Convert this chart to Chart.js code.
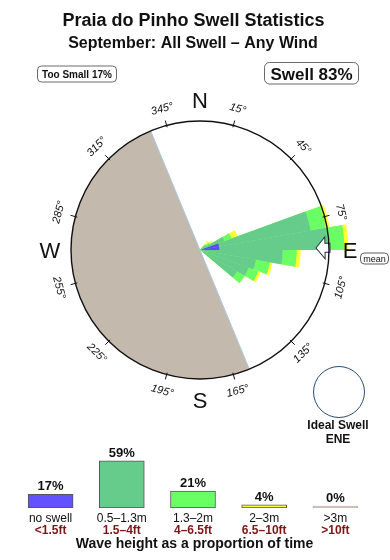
<!DOCTYPE html>
<html>
<head>
<meta charset="utf-8">
<script src="https://cdn.jsdelivr.net/npm/chart.js@4.4.0/dist/chart.umd.min.js"></script>
<style>
  body { margin: 0; background: #fff; }
  #wrap { position: relative; width: 390px; height: 560px; }
  #roseChart { position: absolute; left: 0; top: 0; }
  #heightChart { position: absolute; left: 0; top: 440px; }
</style>
</head>
<body>
<div id="wrap">
  <canvas id="roseChart" width="390" height="560"></canvas>
  <canvas id="heightChart" width="390" height="120"></canvas>
</div>
<script>
// ======= DATA =======
// start of each 10 degree direction sector that has swell
const dirBins = [40, 50, 60, 70, 80, 90, 100, 110, 120];
// rose values per height band (outer ring = 10)
const blueVals   = [0,   0,   0,   1.5, 1.5, 0,   0,   0,   0];
const greenVals  = [0.4, 0.6, 2.0, 7.2, 8.4, 6.4, 4.4, 4.0, 3.3];
const lgreenVals = [0.2, 0.3, 0.6, 1.2, 1.3, 1.1, 1.1, 0.8, 0.7];
const yellowVals = [0.3, 0.2, 0.5, 0.3, 0.3, 0.3, 0.2, 0.2, 0.0];

const bandLabels = ['no swell', '0.5–1.3m', '1.3–2m', '2–3m', '>3m'];
const bandFeet = ['<1.5ft', '1.5–4ft', '4–6.5ft', '6.5–10ft', '>10ft'];
const bandPct = [17, 59, 21, 4, 0];
const bandColors = ['#6252ff', '#66cc8c', '#6bff66', '#ffff33', '#c4b4aa'];

const degLabels = [15, 45, 75, 105, 135, 165, 195, 225, 255, 285, 315, 345];
const compass = [['N', 0], ['E', 90], ['S', 180], ['W', 270]];
const landFrom = 157.5;
const landTo = 337.5;
const meanDir = 89;
const idealDir = 'ENE';
const tooSmallPct = 17;
const swellPct = 83;

const FONT = '"Liberation Sans", Arial, Helvetica, sans-serif';
const rad = d => (d - 90) * Math.PI / 180;

// 36 sectors round the rose, stacked band by band
const sectors = Array.from({ length: 36 }, (_, i) => i * 10);
function ring(vals) {
  const out = sectors.map(() => 0);
  dirBins.forEach((d, i) => { out[d / 10] = vals[i]; });
  return out;
}
let cum = sectors.map(() => 0);
const stacked = [blueVals, greenVals, lgreenVals, yellowVals].map(v => {
  const r = ring(v);
  cum = cum.map((c, i) => c + r[i]);
  return cum.slice();
});

function roundBox(ctx, x, y, w, h, r) {
  ctx.beginPath();
  ctx.moveTo(x + r, y);
  ctx.arcTo(x + w, y, x + w, y + h, r);
  ctx.arcTo(x + w, y + h, x, y + h, r);
  ctx.arcTo(x, y + h, x, y, r);
  ctx.arcTo(x, y, x + w, y, r);
  ctx.closePath();
}

// ======= ROSE =======
const rosePlugin = {
  id: 'roseDecor',
  beforeDatasetsDraw(chart) {
    const ctx = chart.ctx;
    const sc = chart.scales.r;
    const cx = sc.xCenter, cy = sc.yCenter, R = sc.drawingArea;
    ctx.save();
    ctx.fillStyle = '#c4b9ad';
    ctx.beginPath();
    ctx.moveTo(cx, cy);
    ctx.arc(cx, cy, R, rad(landFrom), rad(landTo));
    ctx.closePath();
    ctx.fill();
    ctx.strokeStyle = '#a9c9ea';
    ctx.lineWidth = 1;
    ctx.beginPath();
    ctx.moveTo(cx + R * Math.cos(rad(landFrom)), cy + R * Math.sin(rad(landFrom)));
    ctx.lineTo(cx + R * Math.cos(rad(landTo)), cy + R * Math.sin(rad(landTo)));
    ctx.stroke();
    ctx.restore();
  },
  afterDatasetsDraw(chart) {
    const ctx = chart.ctx;
    const sc = chart.scales.r;
    const cx = sc.xCenter, cy = sc.yCenter, R = sc.drawingArea;
    ctx.save();

    // mean direction arrow
    ctx.save();
    ctx.translate(cx, cy);
    ctx.rotate(rad(meanDir));
    ctx.beginPath();
    ctx.moveTo(R - 13, 0);
    ctx.lineTo(R - 4, -11);
    ctx.lineTo(R - 4, -4.5);
    ctx.lineTo(R + 1, -4.5);
    ctx.lineTo(R + 1, 4.5);
    ctx.lineTo(R - 4, 4.5);
    ctx.lineTo(R - 4, 11);
    ctx.closePath();
    ctx.fillStyle = '#fff';
    ctx.fill();
    ctx.strokeStyle = '#223344';
    ctx.lineWidth = 1;
    ctx.stroke();
    ctx.restore();

    // outer ring
    ctx.strokeStyle = '#111';
    ctx.lineWidth = 1.4;
    ctx.beginPath();
    ctx.arc(cx, cy, R, 0, Math.PI * 2);
    ctx.stroke();

    // ticks and degree labels
    ctx.lineWidth = 1;
    ctx.fillStyle = '#111';
    ctx.font = 'italic 11px ' + FONT;
    ctx.textAlign = 'center';
    ctx.textBaseline = 'middle';
    degLabels.forEach(b => {
      const a = rad(b);
      ctx.beginPath();
      ctx.moveTo(cx + (R - 2) * Math.cos(a), cy + (R - 2) * Math.sin(a));
      ctx.lineTo(cx + (R + 5) * Math.cos(a), cy + (R + 5) * Math.sin(a));
      ctx.stroke();
      ctx.save();
      ctx.translate(cx + 146 * Math.cos(a), cy + 146 * Math.sin(a));
      const bottom = b > 90 && b < 270;
      ctx.rotate((bottom ? b - 180 : b) * Math.PI / 180);
      ctx.fillText(b + '°', 0, 0);
      ctx.restore();
    });

    // compass letters
    ctx.font = '22px ' + FONT;
    ctx.textBaseline = 'alphabetic';
    compass.forEach(([t, b]) => {
      const a = rad(b);
      ctx.fillText(t, cx + 150 * Math.cos(a), cy + 150 * Math.sin(a) + 8);
    });

    // "mean" tag
    ctx.strokeStyle = '#333';
    ctx.lineWidth = 0.8;
    roundBox(ctx, 360.5, 253, 28, 11, 4);
    ctx.stroke();
    ctx.font = '9px ' + FONT;
    ctx.fillText('mean', 374.5, 262);

    // ideal swell
    ctx.strokeStyle = '#2c4d6e';
    ctx.lineWidth = 1;
    ctx.beginPath();
    ctx.arc(339, 392, 25.5, 0, Math.PI * 2);
    ctx.stroke();
    ctx.font = 'bold 12px ' + FONT;
    ctx.fillText('Ideal Swell', 338, 429);
    ctx.fillText(idealDir, 338, 443);

    // titles
    ctx.font = 'bold 18px ' + FONT;
    ctx.fillText('Praia do Pinho Swell Statistics', 193.5, 26);
    ctx.font = 'bold 16px ' + FONT;
    ctx.fillText('September: All Swell – Any Wind', 193, 48);

    // summary boxes
    ctx.strokeStyle = '#444';
    ctx.lineWidth = 0.8;
    roundBox(ctx, 37.5, 66, 79, 16, 4);
    ctx.stroke();
    ctx.font = 'bold 10px ' + FONT;
    ctx.fillText('Too Small ' + tooSmallPct + '%', 77, 77.5);
    roundBox(ctx, 264.5, 62.5, 94, 21.5, 5);
    ctx.stroke();
    ctx.font = 'bold 17px ' + FONT;
    ctx.fillText('Swell ' + swellPct + '%', 311.5, 80);

    ctx.restore();
  }
};

const roseColors = ['#5b4bff', '#66cc8c', '#6bff66', '#ffff33'];
new Chart(document.getElementById('roseChart'), {
  type: 'polarArea',
  data: {
    labels: sectors.map(s => s + '°'),
    datasets: stacked.map((d, i) => ({
      data: d,
      backgroundColor: roseColors[i],
      borderWidth: 0,
      clip: false
    }))
  },
  options: {
    responsive: false,
    animation: false,
    events: [],
    layout: { padding: { left: 71, right: 61, top: 121, bottom: 181 } },
    plugins: { legend: { display: false }, tooltip: { enabled: false } },
    scales: {
      r: {
        min: 0,
        max: 10,
        startAngle: 0,
        ticks: { display: false },
        grid: { display: false },
        angleLines: { display: false },
        pointLabels: { display: false }
      }
    }
  },
  plugins: [rosePlugin]
});

// ======= HEIGHT BARS =======
const bandPlugin = {
  id: 'bandLabels',
  afterDatasetsDraw(chart) {
    const ctx = chart.ctx;
    const meta = chart.getDatasetMeta(0);
    const base = chart.chartArea.bottom;
    ctx.save();
    ctx.textAlign = 'center';
    meta.data.forEach((bar, i) => {
      ctx.fillStyle = '#111';
      ctx.font = 'bold 13px ' + FONT;
      ctx.fillText(bandPct[i] + '%', bar.x, bar.y - 4);
      ctx.font = '12px ' + FONT;
      ctx.fillText(bandLabels[i], bar.x, base + 14);
      ctx.fillStyle = '#7f1616';
      ctx.font = 'bold 12px ' + FONT;
      ctx.fillText(bandFeet[i], bar.x, base + 26);
    });
    ctx.fillStyle = '#111';
    ctx.font = 'bold 14px ' + FONT;
    ctx.fillText('Wave height as a proportion of time', 194.5, 108);
    ctx.restore();
  }
};

new Chart(document.getElementById('heightChart'), {
  type: 'bar',
  data: {
    labels: bandLabels,
    datasets: [{
      data: bandPct,
      backgroundColor: bandColors,
      borderColor: ['#555', '#555', '#555', '#555', '#c4b4aa'],
      borderWidth: 1,
      borderSkipped: false,
      barThickness: 45,
      minBarLength: 2
    }]
  },
  options: {
    responsive: false,
    animation: false,
    events: [],
    layout: { padding: { left: 15, right: 19, top: 12, bottom: 52 } },
    plugins: { legend: { display: false }, tooltip: { enabled: false } },
    scales: {
      x: { display: false },
      y: { display: false, min: 0, max: 70 }
    }
  },
  plugins: [bandPlugin]
});
</script>
</body>
</html>
